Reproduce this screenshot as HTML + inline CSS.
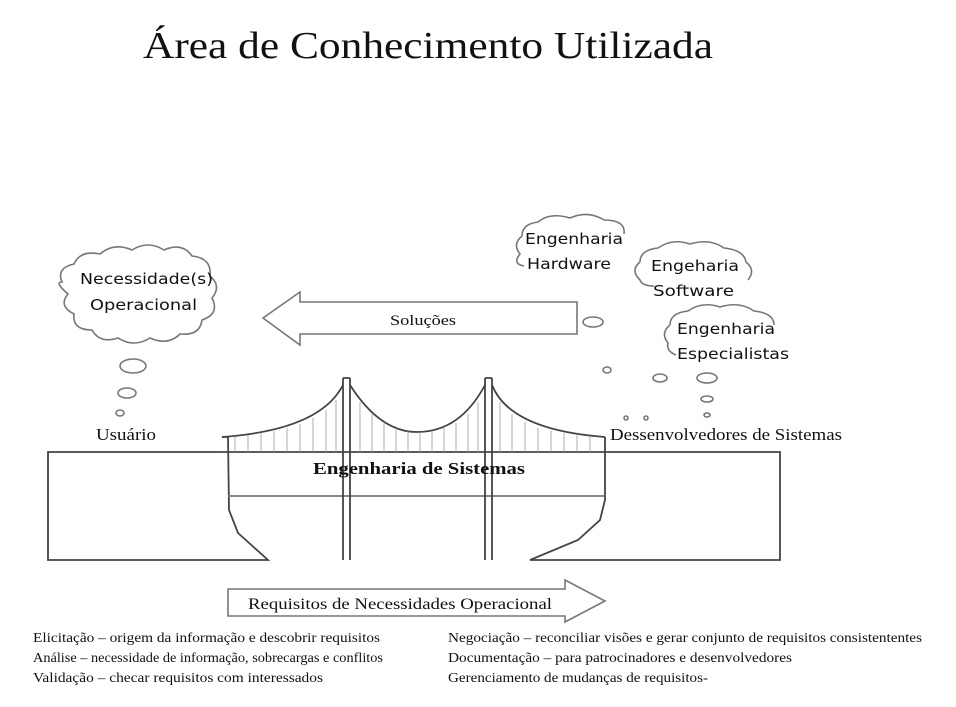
<!DOCTYPE html>
<html><head><meta charset="utf-8"><style>
html,body{margin:0;padding:0;background:#fff;}
svg{display:block;}
.s{font-family:"Liberation Serif",serif;fill:#111;}
.c{font-family:"DejaVu Sans",sans-serif;fill:#111;font-size:15px;}
</style></head><body>
<svg width="956" height="707" viewBox="0 0 956 707" xmlns="http://www.w3.org/2000/svg">
<rect width="956" height="707" fill="#fff"/>
<text class="s" x="143" y="58" font-size="38" textLength="570" lengthAdjust="spacingAndGlyphs">Área de Conhecimento Utilizada</text>

<g fill="none" stroke="#777" stroke-width="1.6">
<!-- clouds -->
<path d="M62,282 q-6,-14 12,-18 q6,-14 26,-10 q14,-12 32,-4 q16,-10 32,0 q18,-8 28,6 q20,2 18,20 q12,10 2,22 q8,16 -10,22 q-2,16 -22,14 q-12,12 -30,4 q-16,10 -32,0 q-18,6 -26,-8 q-20,0 -18,-16 q-16,-8 -6,-20 q-14,-12 -6,-12z"/>
<path d="M522,236 q0,-12 16,-14 q12,-10 32,-4 q18,-8 34,2 q22,0 20,14 M522,236 q-10,8 -2,18 q-8,10 4,12"/>
<path d="M640,262 q0,-12 18,-14 q14,-10 32,-4 q20,-6 34,4 q20,2 22,14 q10,8 2,18 M640,262 q-10,8 0,18 q2,6 14,6"/>
<path d="M670,325 q0,-12 18,-14 q14,-10 32,-4 q20,-6 34,4 q20,2 20,14 M670,325 q-10,8 -2,18 q-2,8 8,12"/>
<!-- bubbles -->
<ellipse cx="133" cy="366" rx="13" ry="7"/><ellipse cx="127" cy="393" rx="9" ry="5"/><ellipse cx="120" cy="413" rx="4" ry="3"/>
<ellipse cx="593" cy="322" rx="10" ry="5"/><ellipse cx="607" cy="370" rx="4" ry="3"/>
<ellipse cx="660" cy="378" rx="7" ry="4"/><ellipse cx="707" cy="378" rx="10" ry="5"/><ellipse cx="707" cy="399" rx="6" ry="3"/><ellipse cx="707" cy="415" rx="3" ry="2"/>
<ellipse cx="626" cy="418" rx="2" ry="2"/><ellipse cx="646" cy="418" rx="2" ry="2"/>
<!-- arrows -->
<path d="M577,302 L300,302 L300,292 L263,318 L300,345 L300,334 L577,334 Z"/>
<path d="M228,589 L565,589 L565,580 L605,601 L565,622 L565,616 L228,616 Z"/>
</g>

<g fill="none" stroke="#444" stroke-width="1.8">
<!-- left block -->
<path d="M222,452 L48,452 L48,560 L268,560 L238,533 L229,510 L228,437 L222,437"/>
<!-- right block -->
<path d="M605,452 L780,452 L780,560 L530,560 L578,540 L600,520 L605,500 L605,437"/>
<!-- deck -->
<line x1="222" y1="452" x2="605" y2="452"/>
<line x1="228" y1="496" x2="605" y2="496" stroke="#777"/>
<!-- towers -->
<path d="M343,378 L343,560 M350,378 L350,560 M343,378 L350,378"/>
<path d="M485,378 L485,560 M492,378 L492,560 M485,378 L492,378"/>
<!-- cables -->
<path d="M222,437 Q320,430 343,385"/>
<path d="M350,385 Q380,432 417,432 Q460,432 485,385"/>
<path d="M492,385 Q510,430 605,437"/>
</g>
<g stroke="#999" stroke-width="0.8">
<path d="M235,437V452 M248,435V452 M261,433V452 M274,431V452 M287,428V452 M300,424V452 M313,418V452 M326,410V452 M336,400V452
M360,402V452 M372,414V452 M384,422V452 M396,428V452 M408,431V452 M420,432V452 M432,431V452 M444,428V452 M456,423V452 M468,414V452 M478,402V452
M500,402V452 M512,414V452 M525,422V452 M538,428V452 M551,431V452 M564,433V452 M577,435V452 M590,436V452"/>
</g>

<text class="s" x="313" y="474" font-size="17" font-weight="bold" textLength="212" lengthAdjust="spacingAndGlyphs">Engenharia de Sistemas</text>
<text class="s" x="96" y="440" font-size="17" textLength="60" lengthAdjust="spacingAndGlyphs">Usuário</text>
<text class="s" x="610" y="440" font-size="17" textLength="232" lengthAdjust="spacingAndGlyphs">Dessenvolvedores de Sistemas</text>
<text class="s" x="390" y="325" font-size="15" textLength="66" lengthAdjust="spacingAndGlyphs">Soluções</text>
<text class="s" x="248" y="609" font-size="16" textLength="304" lengthAdjust="spacingAndGlyphs">Requisitos de Necessidades Operacional</text>

<text class="c" x="80" y="284" textLength="133" lengthAdjust="spacingAndGlyphs">Necessidade(s)</text>
<text class="c" x="90" y="310" textLength="107" lengthAdjust="spacingAndGlyphs">Operacional</text>
<text class="c" x="525" y="244" textLength="98" lengthAdjust="spacingAndGlyphs">Engenharia</text>
<text class="c" x="527" y="269" textLength="84" lengthAdjust="spacingAndGlyphs">Hardware</text>
<text class="c" x="651" y="271" textLength="88" lengthAdjust="spacingAndGlyphs">Engeharia</text>
<text class="c" x="653" y="296" textLength="81" lengthAdjust="spacingAndGlyphs">Software</text>
<text class="c" x="677" y="334" textLength="98" lengthAdjust="spacingAndGlyphs">Engenharia</text>
<text class="c" x="677" y="359" textLength="112" lengthAdjust="spacingAndGlyphs">Especialistas</text>

<g class="s" font-size="13.5">
<text x="33" y="642" textLength="347" lengthAdjust="spacingAndGlyphs">Elicitação – origem da informação e descobrir requisitos</text>
<text x="33" y="662" textLength="350" lengthAdjust="spacingAndGlyphs">Análise – necessidade de informação, sobrecargas e conflitos</text>
<text x="33" y="682" textLength="290" lengthAdjust="spacingAndGlyphs">Validação – checar requisitos com interessados</text>
<text x="448" y="642" textLength="474" lengthAdjust="spacingAndGlyphs">Negociação – reconciliar visões e gerar conjunto de requisitos consistententes</text>
<text x="448" y="662" textLength="344" lengthAdjust="spacingAndGlyphs">Documentação – para patrocinadores e desenvolvedores</text>
<text x="448" y="682" textLength="260" lengthAdjust="spacingAndGlyphs">Gerenciamento de mudanças de requisitos-</text>
</g>
</svg>
</body></html>
